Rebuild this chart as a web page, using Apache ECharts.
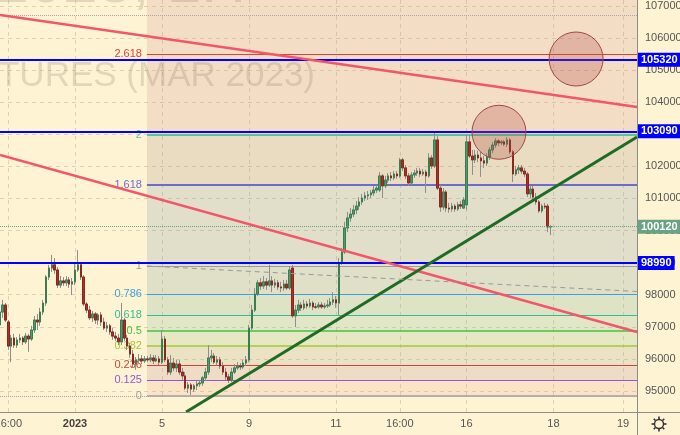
<!DOCTYPE html>
<html><head><meta charset="utf-8">
<script src="https://cdn.jsdelivr.net/npm/echarts@6/dist/echarts.min.js"></script>
<style>html,body{margin:0;padding:0;background:#fef3d2;}#c{width:680px;height:435px;}</style>
</head><body><div id="c"></div>
<script>
// ---- candle data (hourly bars, index = bar number) ----
const opens = [97060,97460,97680,97150,96400,96650,96430,96590,96650,96530,
96710,96620,96900,97210,97150,97460,97740,98550,98830,98930,
98770,98300,98430,98370,98460,98330,98400,98770,98930,98550,
97710,97520,97280,97400,97210,97370,97150,96960,97030,96840,
96710,96650,96530,97210,96650,96400,96150,95840,95970,96000,
95940,96000,95970,96030,95940,96000,95900,96620,95970,95590,
95870,95720,95840,95590,95470,95090,95190,95060,95160,95220,
95250,95410,95590,96030,96090,95900,95970,95780,95590,95440,
95340,95590,95720,95780,95750,95870,95970,96960,97520,98020,
98370,98270,98400,98300,98430,98300,98370,98240,98210,98330,
98210,98830,97340,97520,97680,97590,97710,97650,97740,97620,
97620,97680,97620,97650,97680,97770,97840,97740,98990,99330,
100080,100390,100510,100640,100760,100890,101010,101080,101110,101170,
101260,101260,101700,101390,101570,101700,101640,101760,101700,102200,
101950,101700,101480,101730,101790,101850,101760,101820,101700,102260,
102010,102820,101320,100730,101200,100700,100670,100760,100670,100800,
100700,100800,102760,102320,102200,102350,102260,102170,102100,102290,
102510,102660,102790,102730,102760,102690,102820,102450,101760,101890,
101950,101850,101760,101140,101290,101040,100890,100610,100760,100760,
100110];
const closes = [97460,97680,97210,96400,96650,96430,96590,96650,96530,96710,
96620,96900,97210,97150,97460,97740,98550,98830,98930,98770,
98300,98430,98370,98460,98330,98400,98770,98930,98550,97710,
97520,97280,97400,97210,97370,97150,96960,97030,96840,96710,
96650,96530,97210,96650,96400,96150,95840,95970,96000,95940,
96000,95970,96030,95940,96000,95900,96620,95970,95590,95870,
95720,95840,95590,95470,95090,95190,95060,95160,95220,95250,
95410,95590,96030,96090,95900,95970,95780,95590,95440,95340,
95590,95720,95780,95750,95870,95970,96960,97520,98020,98370,
98270,98400,98300,98430,98300,98370,98240,98210,98330,98210,
98770,97340,97520,97680,97590,97710,97650,97740,97620,97610,
97680,97620,97650,97680,97770,97840,97740,98990,99330,100080,
100390,100510,100640,100760,100890,101010,101080,101110,101170,101260,
101320,101700,101390,101570,101700,101640,101760,101700,102200,101950,
101700,101480,101730,101790,101850,101760,101820,101700,102260,102010,
102820,101320,100730,101200,100700,100670,100760,100670,100800,100760,
100950,102760,102320,102200,102350,102260,102170,102100,102290,102510,
102660,102790,102730,102760,102690,102820,102450,101760,101890,101950,
101850,101760,101140,101290,101040,100890,100610,100760,100730,100110,
100120];
const highs = [97680,97840,97740,97210,96750,96780,96680,96780,96710,96810,
96780,97030,97340,97400,97590,97840,98610,98930,99240,99140,
98860,98580,98550,98580,98550,98520,99020,99390,99020,98610,
97770,97650,97490,97460,97430,97460,97280,97150,97090,96960,
96840,96780,97740,97280,96750,96500,96280,96060,96150,96120,
96090,96090,96150,96120,96120,96090,96900,96710,96060,96120,
96030,95970,95970,95720,95590,95280,95250,95220,95310,95340,
95470,95720,96430,96280,96180,96090,96060,95900,95720,95530,
95720,95840,95900,95870,95970,96090,97060,97680,98210,98460,
98520,98580,98520,98930,98580,98490,98460,98400,98460,98460,
98890,98930,97680,97840,97770,97840,97800,97870,97800,97740,
97770,97770,97740,97840,97900,98080,97960,99140,99460,100270,
100580,100700,100800,100920,101040,101140,101200,101230,101260,101390,
101420,101820,101760,101700,101790,101820,101850,101850,102260,102260,
102040,101790,101820,101890,101950,101950,101920,101890,102410,102350,
103040,102940,101420,101320,101260,100860,100860,100830,100890,100920,
101040,102980,102980,102510,102510,102480,102450,102320,102410,102600,
102760,102880,102850,102820,102820,102910,102880,102510,102010,102040,
102040,101950,101820,101390,101390,101170,100950,100830,100860,100830,
100170];
const lows = [96900,97280,97150,96280,95900,96340,96340,96500,96430,96470,
96220,96560,96810,96900,97030,97370,97650,98460,98710,98650,
98210,98210,98270,98270,98210,97990,98300,98710,98460,97650,
97430,97210,97150,97090,97060,97030,96900,96840,96750,96590,
96560,96430,96430,96560,96280,96030,95720,95660,95870,95840,
95870,95900,95900,95840,95900,95810,95840,95900,95500,95500,
95620,95590,95500,95340,95030,94940,94880,94970,95030,95130,
95160,95310,95500,95900,95840,95780,95690,95500,95340,95250,
95280,95530,95660,95660,95690,95780,95900,96900,97460,97960,
98150,98180,98150,98240,98080,98210,98150,98080,98120,98150,
98150,97280,96990,97430,97490,97520,97560,97590,97520,97560,
97560,97560,97560,97590,97620,97680,97590,97370,98930,99270,
99950,100270,100420,100510,100640,100800,100920,100950,101010,101080,
101170,101200,101010,101320,101480,101540,101570,101610,101640,101850,
101610,101390,101420,101640,101700,101670,101700,101170,101640,101920,
101950,101260,100580,100640,100580,100550,100580,100580,100610,100670,
100670,100640,102260,101730,102100,102130,101670,101950,102010,102200,
102410,102570,102630,102660,102630,102600,102380,101510,101700,101760,
101760,101670,101040,101010,100950,100800,100550,100550,100670,99950,
99860];

// ---- axes ----
const xTickIdx = [3, 26, 56, 86, 116, 138, 161, 191, 215];
const xTickLabels = ['16:00', '2023', '5', '9', '11', '16:00', '16', '18', '19'];
const yTicks = [95000,96000,97000,98000,99000,100000,101000,102000,103000,104000,105000,106000,107000];

// ---- fibonacci levels (ratio label, price) ----
const fibRatios = ['2.618', '2', '1.618', '1', '0.786', '0.618', '0.5', '0.382', '0.236', '0.125', '0'];
const fibValues = [105500, 102980, 101420, 98900, 98010, 97360, 96870, 96400, 95800, 95340, 94845];
const fibStartIdx = 50.8;

// ---- horizontal levels ----
const keyLevels = [105320, 103090, 98990];
const lastPrice = 100120;
const dottedLevels = [106710, 94845];

// ---- trend lines [barIndex, price] ----
const redUpper = [[0.14, 106710], [219.8, 103850]];
const redLower = [[0.14, 102350], [219.8, 96840]];
const greenTrend = [[64.3, 94346], [219.8, 102910]];
const greyDashed = [[50.8, 98894], [219.8, 98100]];
const circles = [[198.8, 105342], [172.2, 103060]];

const X_MIN = 0.138, X_MAX = 219.8, Y_MIN = 94346, Y_MAX = 107180;

const fibColors = ['#e04040', '#5cc49c', '#6c6cd0', '#9e9e9e', '#3ea0de', '#34bf92', '#45c245', '#a2c83a', '#d2453a', '#9257d2', '#a0a0a0'];
const fibWidths = [1, 2, 2, 1, 1, 1, 1.5, 1.5, 1, 1, 1.5];
const fillColors = ['#f4ddc5', '#f4ddc5', '#e9dcc0', '#e1dfc9', '#e0dfc7', '#dfe3c6', '#e1e6c6', '#e6e8c4', '#ebe2c3', '#eedcc6', '#fbe3c6'];

const FONT = 'Liberation Sans';
const chart = echarts.init(document.getElementById('c'));

const candleData = opens.map((o, i) => [i, o, closes[i], lows[i], highs[i]]);
const bodyData = opens.map((o, i) => [i, o, closes[i], Math.min(o, closes[i]), Math.max(o, closes[i])]);

const areas = [];
const tops = [Y_MAX].concat(fibValues);
for (let k = 0; k < fibValues.length; k++) {
  areas.push([{ coord: [fibStartIdx, tops[k]], itemStyle: { color: fillColors[k] } }, { coord: [X_MAX, fibValues[k]] }]);
}
const fibLines = fibValues.map((v, k) => [
  { coord: [fibStartIdx, v], lineStyle: { color: fibColors[k], width: fibWidths[k], type: 'solid' },
    label: { show: true, position: 'start', formatter: fibRatios[k], color: fibColors[k], fontSize: 11, fontFamily: FONT, distance: 5 } },
  { coord: [X_MAX, v] }
]);
const vLines = xTickIdx.map(i => ({ xAxis: i }));
const keyLines = keyLevels.map(v => [
  { coord: [X_MIN, v], lineStyle: { color: '#0000ff', width: 2, type: 'solid' },
    label: { show: true, position: 'end', formatter: String(v), color: '#fff', backgroundColor: '#0000ff', fontWeight: 'bold', fontSize: 11, fontFamily: FONT, padding: [2, 3, 1, 3], distance: 1 } },
  { coord: [X_MAX, v] }
]);
keyLines.push([
  { coord: [X_MIN, lastPrice], lineStyle: { color: '#6aa383', width: 1, type: 'dotted' },
    label: { show: true, position: 'end', formatter: String(lastPrice), color: '#fff', backgroundColor: '#6aa383', fontSize: 11, fontWeight: 'bold', fontFamily: FONT, padding: [2, 3, 1, 3], distance: 1 } },
  { coord: [X_MAX, lastPrice] }
]);
const dotLines = dottedLevels.map(v => [
  { coord: [X_MIN, v], lineStyle: { color: '#a8a8a8', width: 1, type: 'dotted' }, label: { show: false } },
  { coord: [X_MAX, v] }
]);

const gear = [];
for (let a = 0; a < 8; a++) {
  const t = a * Math.PI / 4;
  gear.push({ type: 'line', z: 50, shape: { x1: 659 + 5 * Math.cos(t), y1: 424 + 5 * Math.sin(t), x2: 659 + 7.5 * Math.cos(t), y2: 424 + 7.5 * Math.sin(t) }, style: { stroke: '#333', lineWidth: 1.6 } });
}

chart.setOption({
  animation: false,
  backgroundColor: '#fef3d2',
  grid: { left: 0, right: 43, top: 0, bottom: 23, containLabel: false, outerBoundsMode: 'none' },
  xAxis: {
    type: 'value', min: X_MIN, max: X_MAX,
    axisLine: { show: false }, axisTick: { show: false }, splitLine: { show: false },
    axisLabel: {
      customValues: xTickIdx, margin: 6, fontSize: 11, color: '#555', fontFamily: FONT,
      formatter: v => { const k = xTickIdx.indexOf(Math.round(v)); const s = k >= 0 ? xTickLabels[k] : ''; return s === '2023' ? '{b|2023}' : s; },
      rich: { b: { fontWeight: 'bold', fontSize: 11, color: '#444', fontFamily: FONT } }
    }
  },
  yAxis: {
    type: 'value', position: 'right', min: Y_MIN, max: Y_MAX, scale: true,
    axisLine: { show: false }, axisTick: { show: false },
    axisLabel: { customValues: yTicks, margin: 8, fontSize: 11, color: '#555', fontFamily: FONT, formatter: v => String(v) },
    splitLine: { show: false }
  },
  graphic: [
    { type: 'text', z: 2, silent: true, style: { text: 'RIH2023, 1H', x: 246, y: 16, textAlign: 'right', textVerticalAlign: 'bottom', font: '62px "Liberation Sans"', fill: 'rgba(120,105,85,0.2)' } },
    { type: 'text', z: 2, silent: true, style: { text: 'RTS INDEX FUTURES (MAR 2023)', x: 315, y: 76, textAlign: 'right', textVerticalAlign: 'middle', font: '35px "Liberation Sans"', fill: 'rgba(120,105,85,0.2)' } },
    { type: 'line', z: 50, shape: { x1: 0, y1: 412.5, x2: 680, y2: 412.5 }, style: { stroke: '#8c8c8c', lineWidth: 1 } },
    { type: 'line', z: 50, shape: { x1: 637.5, y1: 0, x2: 637.5, y2: 435 }, style: { stroke: '#8c8c8c', lineWidth: 1 } },
    { type: 'circle', z: 50, shape: { cx: 659, cy: 424, r: 4.5 }, style: { fill: 'none', stroke: '#333', lineWidth: 1.4 } }
  ].concat(gear),
  series: [
    { type: 'line', data: [], z: 1, silent: true, markArea: { silent: true, z: 1, data: areas } },
    { type: 'line', data: [], z: 3, silent: true,
      markLine: { silent: true, z: 3, symbol: ['none', 'none'], animation: false,
        lineStyle: { color: 'rgba(165,150,120,0.35)', type: [4, 4], width: 1 }, label: { show: false },
        data: vLines.concat(yTicks.map(v => ({ yAxis: v }))) } },
    { type: 'line', data: [], z: 3, silent: true,
      markLine: { silent: true, z: 3, symbol: ['none', 'none'], animation: false, data: fibLines.concat(dotLines) } },
    { type: 'candlestick', z: 4, silent: true, barWidth: 2, data: candleData, encode: { x: 0, y: [1, 2, 3, 4] },
      itemStyle: { color: '#8e8e8e', color0: '#8e8e8e', borderColor: '#8e8e8e', borderColor0: '#8e8e8e', borderWidth: 1 } },
    { type: 'candlestick', z: 5, silent: true, barWidth: 2, data: bodyData, encode: { x: 0, y: [1, 2, 3, 4] },
      itemStyle: { color: '#4e9c6c', color0: '#ab2f26', borderColor: '#3a7d52', borderColor0: '#8c261e', borderWidth: 1 } },
    { type: 'line', data: [], z: 6, silent: true,
      markLine: { silent: true, z: 6, symbol: ['none', 'none'], animation: false, data: keyLines } },
    { type: 'line', data: redUpper, z: 7, symbol: 'none', silent: true, lineStyle: { color: '#f2566a', width: 2.5 } },
    { type: 'line', data: redLower, z: 7, symbol: 'none', silent: true, lineStyle: { color: '#f2566a', width: 2.5 } },
    { type: 'line', data: greenTrend, z: 7, symbol: 'none', silent: true, lineStyle: { color: '#1f6b26', width: 3 } },
    { type: 'line', data: greyDashed, z: 7, symbol: 'none', silent: true, lineStyle: { color: '#999', width: 1, type: [5, 4] } },
    { type: 'scatter', data: circles, z: 8, silent: true, symbol: 'circle', symbolSize: 54,
      itemStyle: { color: 'rgba(175,80,70,0.28)', borderColor: '#a04848', borderWidth: 1, opacity: 1 } }
  ]
});
</script>
</body></html>
